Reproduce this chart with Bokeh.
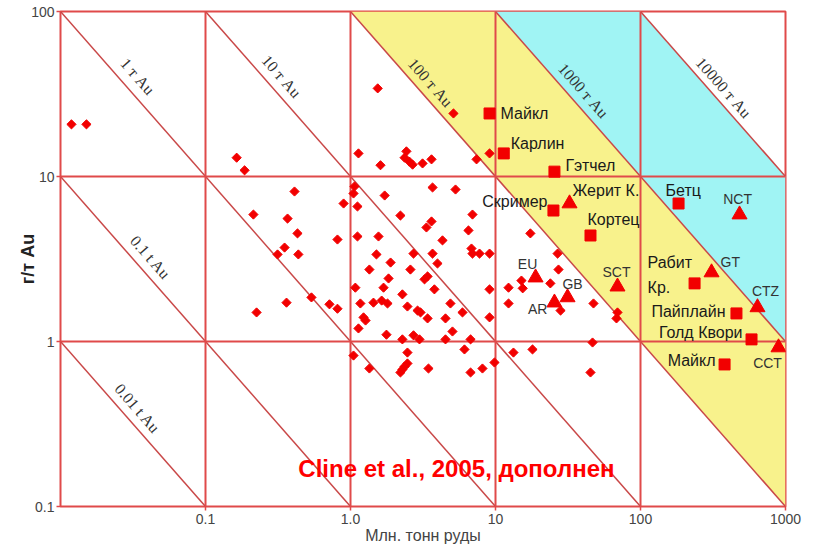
import math
from bokeh.plotting import figure
from bokeh.models import FixedTicker, CustomJSTickFormatter
from bokeh.core.properties import value
from bokeh.embed import file_html
from bokeh.resources import INLINE

# ---------------- data ----------------
diamond_x = [0.0119, 0.0151, 0.164, 0.186, 0.214, 0.368, 0.431, 0.351, 0.314, 0.437,
             0.411, 0.362, 0.225, 0.538, 0.716, 0.813, 0.813, 0.896, 1.066, 1.049,
             1.117, 1.135, 1.61, 1.54, 2.43, 2.36, 2.55, 2.68, 3.14, 3.62,
             5.13, 7.40, 9.10, 1.72, 3.68, 5.30, 1.117, 1.56, 2.21, 3.62,
             3.34, 4.31, 6.94, 6.51, 2.72, 3.68, 1.51, 1.89, 1.35, 2.59,
             3.98, 6.83, 6.94, 7.76, 9.10, 1.83, 3.40, 3.24, 1.69, 1.08,
             3.79, 9.10, 2.28, 1.17, 1.44, 1.64, 1.80, 2.47, 2.90, 3.04,
             4.89, 5.92, 9.10, 1.23, 1.27, 1.135, 3.40, 4.52, 5.05, 1.77,
             2.28, 2.72, 2.99, 4.52, 6.73, 1.049, 1.35, 2.47, 2.47, 2.36,
             2.28, 2.21, 3.45, 6.11, 6.73, 8.13, 9.84, 13.3, 18.0, 12.3,
             12.3, 15.1, 15.4, 23.9, 17.4, 26.8, 27.2, 28.1, 47.4, 69.4,
             68.3, 46.7, 45.2]
diamond_y = [20.7, 20.7, 13.0, 10.9, 5.88, 5.56, 4.52, 3.71, 3.37, 3.37,
             8.11, 1.72, 1.50, 1.85, 1.68, 1.58, 4.15, 6.86, 8.70, 7.89,
             6.58, 13.8, 11.7, 34.2, 14.2, 13.0, 12.3, 11.8, 12.0, 12.7,
             24.1, 12.7, 13.8, 7.67, 8.58, 8.34, 4.33, 4.33, 5.80, 5.34,
             4.91, 4.10, 5.88, 4.71, 3.41, 3.41, 3.37, 3.01, 2.73, 2.73,
             2.97, 3.66, 3.41, 3.41, 3.41, 2.41, 2.48, 2.38, 2.12, 2.12,
             2.07, 2.07, 1.93, 1.70, 1.72, 1.77, 1.70, 1.63, 1.54, 1.50,
             1.70, 1.50, 1.40, 1.40, 1.34, 1.20, 1.38, 1.38, 1.15, 1.10,
             1.03, 1.09, 1.03, 1.03, 1.03, 0.822, 0.686, 0.857, 0.736, 0.705,
             0.676, 0.649, 0.686, 0.895, 0.649, 0.686, 0.746, 0.857, 0.895, 1.70,
             2.12, 2.34, 2.10, 2.25, 4.52, 3.41, 2.73, 1.54, 1.70, 1.50,
             1.38, 0.986, 0.649]

square_names = ["Майкл", "Карлин", "Гэтчел", "Скример", "Кортец", "Бетц",
                "Рабит\nКр.", "Пайплайн", "Голд Квори", "Майкл"]
square_x = [9.10, 11.4, 25.5, 25.1, 45.2, 183, 236, 459, 583, 380]
square_y = [24.1, 13.8, 10.7, 6.22, 4.39, 6.86, 2.25, 1.48, 1.03, 0.726]

tri_names = ["Жерит К.", "NCT", "GT", "CTZ", "CCT", "SCT", "GB", "AR", "EU"]
tri_x = [32.4, 482, 309, 641, 895, 69.4, 31.4, 25.5, 18.9]
tri_y = [6.86, 5.88, 2.62, 1.61, 0.92, 2.15, 1.85, 1.72, 2.44]

tonnage_lines = [0.01, 0.1, 1, 10, 100, 1000, 10000]
tonnage_labels = ["0.01 t Au", "0.1 t Au", "1 т Au", "10 т Au", "100 т Au",
                  "1000 т Au", "10000 т Au"]
yellow_band = (100, 1000)
cyan_band = (1000, 10000)

x_ticks = [0.1, 1, 10, 100, 1000]
x_tick_labels = ["0.1", "1.0", "10", "100", "1000"]
y_ticks = [0.1, 1, 10, 100]
y_tick_labels = ["0.1", "1", "10", "100"]
decade_x = [0.1, 1, 10, 100]
decade_y = [1, 10]

x_title = "Млн. тонн руды"
y_title = "г/т Au"
source_note = "Cline et al., 2005, дополнен"

# ---------------- layout / style ----------------
XMIN, XMAX, YMIN, YMAX = 0.01, 1000, 0.1, 100
FW, FH = 725, 495
PX_X = FW / 5.0
PX_Y = FH / 3.0


def shift(x, y, dx, dy):
    """move a data point by screen pixels (dy positive = down)"""
    return x * 10 ** (dx / PX_X), y * 10 ** (-dy / PX_Y)


RED = "#f20000"
GRID = "#e04a4a"
DIAG = "#c94848"
YELLOW = "#f8f28c"
CYAN = "#a0f4f4"
FONT = "Liberation Sans"

p = figure(width=816, height=548, x_axis_type="log", y_axis_type="log",
           x_range=(XMIN, XMAX), y_range=(YMIN, YMAX),
           output_backend="svg", toolbar_location=None,
           min_border_left=60, min_border_right=31,
           min_border_top=11, min_border_bottom=42)
p.grid.visible = False
p.background_fill_color = "white"
p.border_fill_color = "white"
p.outline_line_color = GRID
p.outline_line_width = 2

for ax, tv, tl in ((p.xaxis[0], x_ticks, x_tick_labels), (p.yaxis[0], y_ticks, y_tick_labels)):
    ax.ticker = FixedTicker(ticks=tv, minor_ticks=[])
    ax.formatter = CustomJSTickFormatter(
        args=dict(tv=tv, tl=tl),
        code="const i = tv.findIndex(v => Math.abs(Math.log10(v) - Math.log10(tick)) < 1e-6);"
             "return i >= 0 ? tl[i] : '';")
    ax.axis_line_color = None
    ax.major_tick_line_color = GRID
    ax.major_tick_line_width = 1.5
    ax.major_tick_out = 4
    ax.major_tick_in = 0
    ax.minor_tick_line_color = None
    ax.major_label_text_font = FONT
    ax.major_label_text_font_size = "14px"
    ax.major_label_text_color = "#444444"
p.xaxis.major_label_standoff = 3
p.yaxis.major_label_standoff = 2

p.xaxis.axis_label = x_title
p.xaxis.axis_label_standoff = 0
p.xaxis.axis_label_text_font = FONT
p.xaxis.axis_label_text_font_size = "16px"
p.xaxis.axis_label_text_font_style = "normal"
p.xaxis.axis_label_text_color = "#444444"

p.yaxis.axis_label = y_title
p.yaxis.axis_label_standoff = -10
p.yaxis.axis_label_text_font = FONT
p.yaxis.axis_label_text_font_size = "18px"
p.yaxis.axis_label_text_font_style = "bold"
p.yaxis.axis_label_text_color = "#222222"


def band(lo, hi):
    xs = [lo / YMAX, hi / YMAX, XMAX, XMAX]
    ys = [YMAX, YMAX, hi / XMAX, lo / XMAX]
    return xs, ys


yx, yy = band(*yellow_band)
cx, cy = band(*cyan_band)
p.patches([yx, cx], [yy, cy], fill_color=[YELLOW, CYAN], line_color=None)

# tonnage diagonals
x0s, y0s, x1s, y1s = [], [], [], []
for c in tonnage_lines:
    a = max(XMIN, c / YMAX)
    b = min(XMAX, c / YMIN)
    x0s.append(a); y0s.append(c / a); x1s.append(b); y1s.append(c / b)
p.segment(x0s, y0s, x1s, y1s, line_color=DIAG, line_width=1.5)

# decade grid
p.segment(decade_x, [YMIN] * len(decade_x), decade_x, [YMAX] * len(decade_x),
          line_color=GRID, line_width=2)
p.segment([XMIN] * len(decade_y), decade_y, [XMAX] * len(decade_y), decade_y,
          line_color=GRID, line_width=2)

# diagonal labels
diag_label_pos = [(0.0340, 0.393), (0.0418, 3.23), (0.0340, 40.4), (0.334, 40.4),
                  (3.56, 37.1), (40.4, 33.2), (374, 34.6)]
ang = -math.atan(PX_Y / PX_X)
p.text([q[0] for q in diag_label_pos], [q[1] for q in diag_label_pos], text=tonnage_labels,
       angle=ang, text_align="center", text_baseline="middle",
       text_font=value("Liberation Serif"), text_font_size="16px", text_color="#333333")

# points
p.scatter(diamond_x, diamond_y, marker="square", angle=math.pi / 4, size=6.5,
          fill_color=RED, line_color=RED)
p.scatter(square_x, square_y, marker="square", size=11, fill_color=RED, line_color=RED)
p.scatter(tri_x, tri_y, marker="triangle", size=15, fill_color=RED, line_color=RED)

BIG = ("16px", "#1a1a1a")
SMALL = ("14px", "#333333")
sq_label_style = [(11, 0, "left", BIG), (7, -10, "left", BIG), (11, -6, "left", BIG),
                  (-6, -9, "right", BIG), (-3, -16, "left", BIG), (-13, -13, "left", BIG),
                  (-47, -21, "left", BIG), (-11, -2, "right", BIG), (-9, -7, "right", BIG),
                  (-9, -4, "right", BIG)]
tri_label_style = [(3, -13, "left", BIG), (-2, -16, "center", SMALL), (9, -10, "left", SMALL),
                   (8, -16, "center", SMALL), (-11, 16, "center", SMALL),
                   (-1, -15, "center", SMALL), (5, -13, "center", SMALL),
                   (-7, 6, "right", SMALL), (-8, -14, "center", SMALL)]


def draw_labels(names, xs, ys, styles):
    for name, x, y, (dx, dy, al, (size, color)) in zip(names, xs, ys, styles):
        for k, line in enumerate(name.split("\n")):
            lx, ly = shift(x, y, dx, dy + 25 * k)
            p.text([lx], [ly], text=[line], text_align=al, text_baseline="middle",
                   text_font=value(FONT), text_font_size=size, text_color=color)


draw_labels(square_names, square_x, square_y, sq_label_style)
draw_labels(tri_names, tri_x, tri_y, tri_label_style)

# source note
p.text([0.437], [0.170], text=[source_note], text_align="left", text_baseline="middle",
       text_font=value(FONT), text_font_size="24px", text_font_style="bold",
       text_color="#ff0000")

open("out.html", "w").write(file_html(p, INLINE))
